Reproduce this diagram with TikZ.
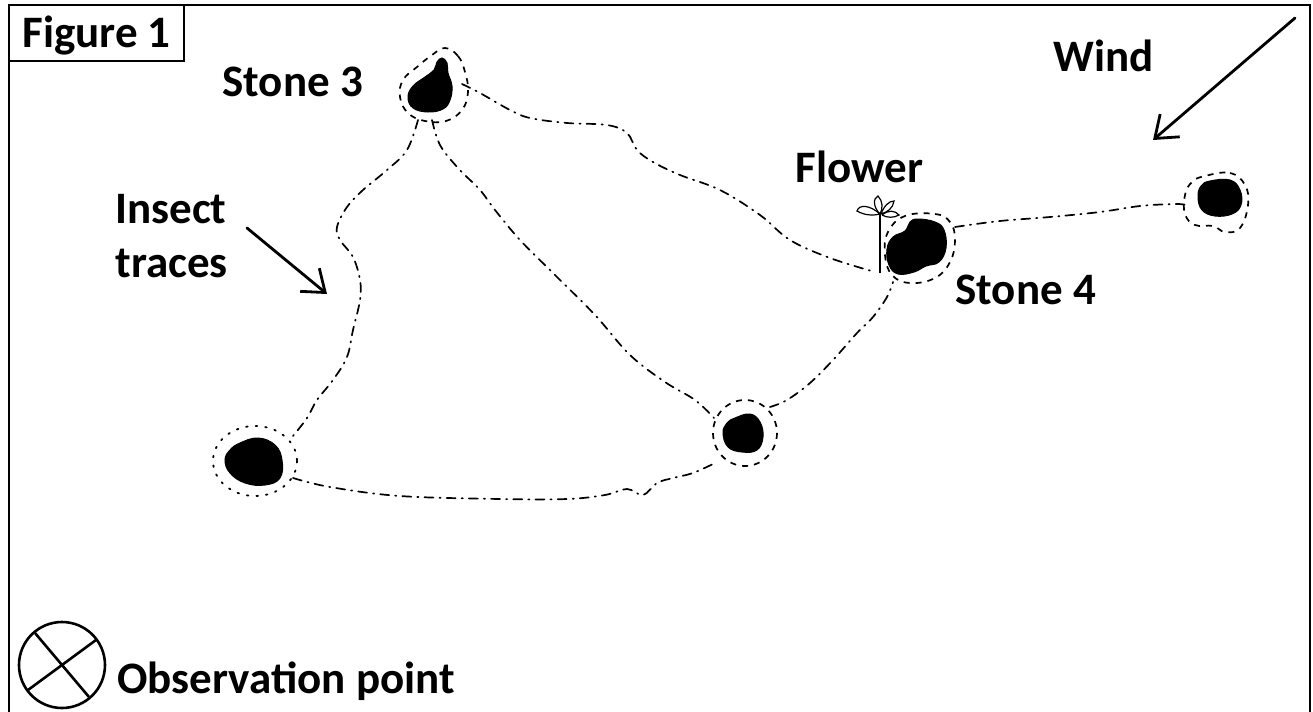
\documentclass[tikz,border=0pt]{standalone}
\usepackage{fontspec}
\setmainfont{Carlito}
\usetikzlibrary{arrows.meta,calc}
\begin{document}
\begin{tikzpicture}[x=0.5pt,y=-0.5pt,
  lbl/.style={font=\fontsize{22.5}{27}\selectfont\bfseries, inner sep=0pt, anchor=base west},
  trace/.style={line width=0.85pt, line cap=round, dash pattern=on 4.5pt off 3pt on 0.6pt off 3pt},
  halo/.style={line width=0.85pt, dash pattern=on 3pt off 3pt},
  halodot/.style={line width=0.9pt, line cap=round, dash pattern=on 0.8pt off 4pt},
  stone/.style={fill=black, draw=black, line width=0.5pt},
  leaf/.style={fill=white, draw=black, line width=0.6pt},
  pointer/.style={line width=1.4pt, line cap=round, -{Straight Barb[length=10pt,width=15pt]}}
]
\useasboundingbox (0,0) rectangle (1313,712);
\clip (0,0) rectangle (1313,712);

% outer frame and title box
\draw[line width=1.25pt] (9,5) rectangle (1310,760);
\draw[line width=1.25pt] (9,5) rectangle (184,61);
\node[lbl] (title) at (22,47) {Figure 1};

% stones
\fill[stone] plot[smooth cycle, tension=0.7] coordinates {(442,58) (447,63) (448,73) (452,86) (450,100) (443,109) (428,112) (413,108) (408,97) (413,86) (425,77) (434,70) (437,62)};
\fill[stone] plot[smooth cycle, tension=0.7] coordinates {(910,222) (918,219) (935,222) (944,230) (946,248) (939,262) (926,266) (914,272) (898,274) (889,265) (887,249) (893,237) (905,231)};
\fill[stone] plot[smooth cycle, tension=0.7] coordinates {(1210,181) (1230,180) (1240,190) (1241,205) (1232,214) (1215,216) (1202,210) (1198,197) (1201,186)};
\fill[stone] plot[smooth cycle, tension=0.7] coordinates {(240,443) (258,438) (275,445) (282,460) (280,478) (265,485) (245,483) (230,473) (225,460) (230,450)};
\fill[stone] plot[smooth cycle, tension=0.7] coordinates {(735,418) (750,414) (760,422) (763,437) (757,450) (742,452) (728,447) (723,433) (727,423)};

% halos round the stones
\draw[halo] plot[smooth cycle, tension=0.7] coordinates {(445,48) (458,56) (465,72) (468,92) (462,110) (446,121) (425,121) (408,113) (400,97) (403,80) (417,67) (432,55)};
\draw[halo] plot[smooth cycle, tension=0.7] coordinates {(905,216) (935,214) (950,222) (955,240) (950,262) (935,278) (910,283) (892,275) (885,255) (888,232)};
\draw[halo] plot[smooth cycle, tension=0.7] coordinates {(1205,176) (1230,173) (1245,185) (1248,205) (1240,228) (1225,232) (1213,226) (1195,225) (1185,214) (1185,195) (1192,182)};
\draw[halodot] (255,461) ellipse [x radius=42, y radius=35];
\draw[halo] (745,433) ellipse [x radius=32, y radius=33];

% ends of the insect traces on the halos
\coordinate (s3e) at (462,84);
\coordinate (s3s) at (432,120);
\coordinate (s3w) at (418,120);
\coordinate (s4w) at (875,272);
\coordinate (s4s) at (893,282);
\coordinate (s4e) at (955,227);
\coordinate (s5w) at (1186,205);
\coordinate (s1n) at (293,436);
\coordinate (s1e) at (293,478);
\coordinate (s2n) at (714,418);
\coordinate (s2w) at (715,463);
\coordinate (s2e) at (770,407);

% insect traces
\draw[trace] plot[smooth, tension=0.6] coordinates {(s3e) (480,93) (510,110) (530,118) (567,123) (607,125) (627,133) (637,150) (653,162) (680,175) (720,190) (760,215) (790,240) (830,258) (s4w)};
\draw[trace] plot[smooth, tension=0.6] coordinates {(s3s) (440,145) (458,168) (480,190) (495,210) (520,240) (555,275) (595,315) (630,355) (665,382) (695,400) (s2n)};
\draw[trace] plot[smooth, tension=0.6] coordinates {(s3w) (407,150) (387,170) (363,190) (347,207) (337,227) (340,240) (353,257) (360,280) (360,300) (353,330) (347,357) (333,380) (317,400) (307,418) (s1n)};
\draw[trace] plot[smooth, tension=0.6] coordinates {(s1e) (330,487) (400,496) (500,499) (567,499) (605,495) (627,489) (643,495) (657,483) (673,478) (693,473) (s2w)};
\draw[trace] plot[smooth, tension=0.6] coordinates {(s2e) (787,400) (810,383) (833,360) (857,333) (873,317) (887,297) (s4s)};
\draw[trace] plot[smooth, tension=0.6] coordinates {(s4e) (1000,221) (1050,217) (1100,212) (1140,206) (1175,204) (s5w)};

% flower
\coordinate (stemtop) at (880,214);
\coordinate (stembot) at (880,273);
\draw[line width=1.1pt] (stemtop) -- (stembot);
\draw[leaf] (880,214) .. controls (870,205) and (859,204) .. (857,211) .. controls (864,215) and (872,216) .. (880,214);
\draw[leaf] (880,214) .. controls (873,207) and (873,198) .. (878,196) .. controls (883,201) and (883,209) .. (880,214);
\draw[leaf] (881,214) .. controls (884,206) and (889,201) .. (894,201) .. controls (893,208) and (888,212) .. (881,214);
\draw[leaf] (882,215) .. controls (888,210) and (895,210) .. (899,215) .. controls (894,218) and (887,218) .. (882,215);

% labels
\node[lbl] (stone3) at (222,97) {Stone 3};
\node[lbl] (stone4) at (955,304) {Stone 4};
\node[lbl] (flower) at (795,182) {Flower};
\node[lbl] (wind) at (1053,71) {Wind};
\node[lbl] (insect) at (115,223) {Insect};
\node[lbl] (traces) at (115,277) {traces};
\node[lbl] (obs) at (117,693) {Observation point};

% pointers
\coordinate (ia) at (247,228);
\coordinate (ib) at (327,294);
\draw[pointer] (ia) -- (ib);
\coordinate (wa) at (1295,18);
\coordinate (wb) at (1153,140);
\draw[pointer] (wa) -- (wb);

% observation point symbol
\coordinate (op) at (62,665);
\draw[line width=1.3pt] (op) circle [radius=43];
\draw[line width=1.3pt] ($(op)+(-27,-32)$) -- ($(op)+(27,32)$);
\draw[line width=1.3pt] ($(op)+(34,-25)$) -- ($(op)+(-34,25)$);
\end{tikzpicture}
\end{document}
